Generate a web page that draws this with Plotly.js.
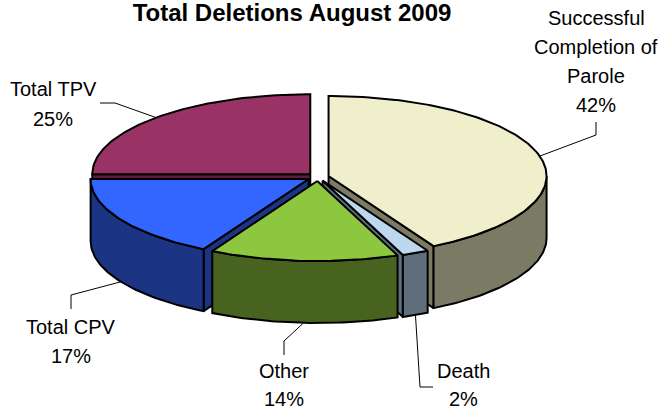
<!DOCTYPE html>
<html>
<head>
<meta charset="utf-8">
<script src="https://cdn.plot.ly/plotly-3.0.1.min.js"></script>
<style>
  html, body { margin: 0; padding: 0; background: #fff; }
  #chart { width: 661px; height: 410px; }
</style>
</head>
<body>
<div id="chart"></div>
<script>
// ---- data ----
const categories = ['Successful Completion of Parole', 'Death', 'Other', 'Total CPV', 'Total TPV'];
const labelLines = [['Successful', 'Completion of', 'Parole'], ['Death'], ['Other'], ['Total CPV'], ['Total TPV']];
const values = [42, 2, 14, 17, 25];
const pctLabels = ['42%', '2%', '14%', '17%', '25%'];

// ---- styles ----
const topColors  = ['#EFEFCC', '#BDD7EE', '#8DC63F', '#3366FF', '#993366'];
const sideColors = ['#7B7A64', '#5E6E7B', '#48621F', '#1B3584', '#5C1E3D'];

// ---- geometry of the 3D pie (pixel space) ----
const CX = 318, CY = 177, RX = 218, RY = 80, H = 62, EXPLODE = 0.05;
// label layout: text centre x, first line y, line step, leader elbow points
const labelLayout = [
  { x: 596, y: 18,  step: 29, leader: [[596, 122], [596, 135]] },
  { x: 463, y: 371, step: 28, leader: [[433, 387], [420, 387]] },
  { x: 284, y: 371, step: 28, leader: [[284, 355], [284, 341]] },
  { x: 71,  y: 327, step: 29, leader: [[71, 309], [71, 295]] },
  { x: 53,  y: 89,  step: 30, leader: [[100, 103], [115, 103]] }
];

const rad = d => d * Math.PI / 180;
const total = values.reduce((a, b) => a + b, 0);
const starts = [], ends = [];
let acc = 0;
values.forEach(v => { starts.push(acc / total * 360); acc += v; ends.push(acc / total * 360); });

function offsetOf(i) {
  const m = rad((starts[i] + ends[i]) / 2);
  return { x: EXPLODE * RX * Math.sin(m), y: -EXPLODE * RY * Math.cos(m) };
}
function rim(i, deg, drop) {
  const o = offsetOf(i);
  return [CX + o.x + RX * Math.sin(rad(deg)), CY + o.y - RY * Math.cos(rad(deg)) + drop];
}
function apex(i, drop) {
  const o = offsetOf(i);
  return [CX + o.x, CY + o.y + drop];
}
function arc(i, a, b, drop) {
  const pts = [];
  const n = Math.max(2, Math.ceil(Math.abs(b - a)));
  for (let k = 0; k <= n; k++) pts.push(rim(i, a + (b - a) * k / n, drop));
  return pts;
}
function poly(pts, color) {
  const xs = pts.map(p => p[0]), ys = pts.map(p => p[1]);
  xs.push(pts[0][0]); ys.push(pts[0][1]);
  return {
    type: 'scatter', mode: 'lines', x: xs, y: ys, fill: 'toself', fillcolor: color,
    line: { color: '#000', width: 2 }, hoverinfo: 'skip', showlegend: false
  };
}

const traces = [];
// back-to-front drawing order
const order = [4, 0, 3, 1, 2];
order.forEach(i => {
  const a = starts[i], b = ends[i];
  // radial faces
  if (Math.sin(rad(b)) > 0.01) {
    traces.push(poly([apex(i, 0), rim(i, b, 0), rim(i, b, H), apex(i, H)], sideColors[i]));
  }
  if (Math.sin(rad(a)) < -0.01) {
    traces.push(poly([apex(i, 0), rim(i, a, 0), rim(i, a, H), apex(i, H)], sideColors[i]));
  }
  // outer curved side (front half only)
  const sa = Math.max(a, 90), sb = Math.min(b, 270);
  if (sb - sa > 0.01) {
    const top = arc(i, sa, sb, 0);
    const bot = arc(i, sb, sa, H);
    traces.push(poly(top.concat(bot), sideColors[i]));
  }
  // top face
  traces.push(poly([apex(i, 0)].concat(arc(i, a, b, 0)), topColors[i]));
});

// leader lines and labels
const annotations = [];
values.forEach((v, i) => {
  const m = (starts[i] + ends[i]) / 2;
  const front = Math.cos(rad(m)) < 0;
  const end = rim(i, m, front ? H : 0);
  const L = labelLayout[i];
  const pts = L.leader.concat([end]);
  traces.push({
    type: 'scatter', mode: 'lines', x: pts.map(p => p[0]), y: pts.map(p => p[1]),
    line: { color: '#000', width: 1 }, hoverinfo: 'skip', showlegend: false
  });
  const lines = labelLines[i].concat([pctLabels[i]]);
  lines.forEach((t, k) => {
    annotations.push({
      x: L.x, y: L.y + k * L.step, xref: 'x', yref: 'y', text: t, showarrow: false,
      xanchor: 'center', yanchor: 'middle',
      font: { family: 'Liberation Sans, Arial, sans-serif', size: 20, color: '#000' }
    });
  });
});

const layout = {
  width: 661, height: 410,
  margin: { l: 0, r: 0, t: 0, b: 0, pad: 0 },
  paper_bgcolor: '#fff', plot_bgcolor: '#fff',
  title: {
    text: '<b>Total Deletions August 2009</b>',
    x: 292 / 661, xanchor: 'center', xref: 'paper',
    y: 1 - 13 / 410, yanchor: 'middle', yref: 'paper',
    font: { family: 'Liberation Sans, Arial, sans-serif', size: 24, color: '#000' }
  },
  xaxis: { range: [0, 661], visible: false, fixedrange: true },
  yaxis: { range: [410, 0], visible: false, fixedrange: true },
  annotations: annotations,
  showlegend: false
};

Plotly.newPlot('chart', traces, layout, { staticPlot: true, displayModeBar: false });
</script>
</body>
</html>
